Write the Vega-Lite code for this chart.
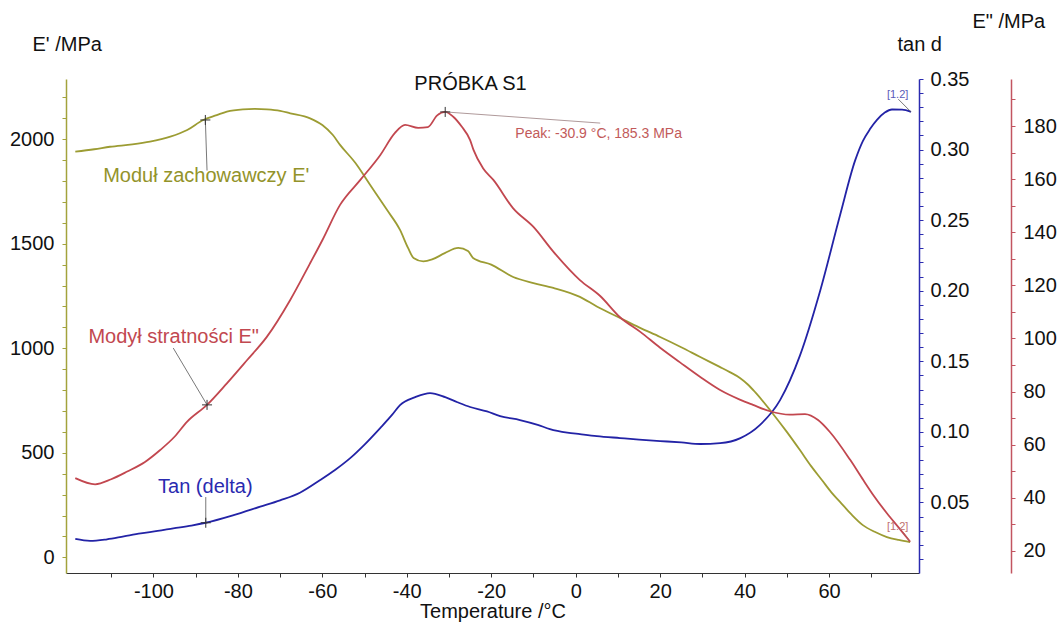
{
  "$schema": "https://vega.github.io/schema/vega-lite/v6.json",
  "width": 853,
  "height": 494,
  "autosize": {"type": "none"},
  "padding": {"left": 66, "top": 79, "right": 138, "bottom": 50},
  "background": "white",
  "config": {
    "view": {"stroke": null},
    "font": "Liberation Sans",
    "axis": {
      "grid": false,
      "labelFont": "Liberation Sans",
      "titleFont": "Liberation Sans",
      "labelFontSize": 20,
      "titleFontSize": 20,
      "titleFontWeight": "normal",
      "labelColor": "#111",
      "titleColor": "#111"
    }
  },
  "title": {
    "text": "PRÓBKA S1",
    "fontSize": 20,
    "fontWeight": "normal",
    "color": "#111",
    "anchor": "middle",
    "frame": "group",
    "dx": -22,
    "offset": -99,
    "baseline": "alphabetic"
  },
  "datasets": {
    "ep": [
      {"T": -118.5, "v": 1941}, {"T": -114, "v": 1952}, {"T": -110.3, "v": 1964}, {"T": -105, "v": 1975},
      {"T": -100.8, "v": 1988}, {"T": -96, "v": 2012}, {"T": -92, "v": 2044}, {"T": -88.2, "v": 2092},
      {"T": -85, "v": 2115}, {"T": -82.6, "v": 2132}, {"T": -78.8, "v": 2143}, {"T": -76, "v": 2145},
      {"T": -73.1, "v": 2143}, {"T": -70, "v": 2136}, {"T": -67.6, "v": 2124}, {"T": -62.9, "v": 2100},
      {"T": -60, "v": 2068}, {"T": -57.5, "v": 2020}, {"T": -55.8, "v": 1973}, {"T": -52.2, "v": 1887},
      {"T": -48.7, "v": 1782}, {"T": -46.3, "v": 1710}, {"T": -44.7, "v": 1662}, {"T": -41.6, "v": 1566},
      {"T": -39.7, "v": 1480}, {"T": -38.4, "v": 1432}, {"T": -36.1, "v": 1416}, {"T": -34, "v": 1425},
      {"T": -31, "v": 1455}, {"T": -27.8, "v": 1480}, {"T": -25.5, "v": 1465}, {"T": -24.3, "v": 1432},
      {"T": -20, "v": 1400}, {"T": -14.8, "v": 1341}, {"T": -10, "v": 1312}, {"T": -5.3, "v": 1289},
      {"T": 1, "v": 1246}, {"T": 5, "v": 1200}, {"T": 10.5, "v": 1145}, {"T": 15, "v": 1100},
      {"T": 20, "v": 1054}, {"T": 25, "v": 1005}, {"T": 29.5, "v": 958}, {"T": 34, "v": 912},
      {"T": 36.5, "v": 886}, {"T": 38.9, "v": 858}, {"T": 40.7, "v": 828}, {"T": 42.5, "v": 790},
      {"T": 46.7, "v": 687}, {"T": 50, "v": 600},
      {"T": 53.1, "v": 513}, {"T": 55.8, "v": 435}, {"T": 58.3, "v": 370}, {"T": 60.5, "v": 312},
      {"T": 62.6, "v": 265}, {"T": 65.3, "v": 205}, {"T": 68, "v": 154}, {"T": 70.8, "v": 122},
      {"T": 73.7, "v": 97}, {"T": 76.5, "v": 83}, {"T": 79.2, "v": 73}
    ],
    "epp": [
      {"T": -118.5, "v": 47.4}, {"T": -113.8, "v": 45.1}, {"T": -110, "v": 47}, {"T": -106.2, "v": 49.9},
      {"T": -102, "v": 53.5}, {"T": -98.4, "v": 58}, {"T": -95, "v": 63}, {"T": -92, "v": 68.7},
      {"T": -87.3, "v": 75}, {"T": -82.6, "v": 83.1}, {"T": -77.8, "v": 91.9}, {"T": -73.1, "v": 100.7},
      {"T": -67.6, "v": 114.5}, {"T": -63, "v": 128}, {"T": -60, "v": 137}, {"T": -55.8, "v": 150.3},
      {"T": -51, "v": 159.7}, {"T": -46.3, "v": 169}, {"T": -42.8, "v": 177.4}, {"T": -40.4, "v": 180.4},
      {"T": -37.3, "v": 179.3}, {"T": -35, "v": 179.6}, {"T": -32.8, "v": 184}, {"T": -30.9, "v": 185.3},
      {"T": -29, "v": 183.5}, {"T": -27, "v": 179.8}, {"T": -25, "v": 174.7}, {"T": -24.2, "v": 171},
      {"T": -21.9, "v": 164}, {"T": -19.5, "v": 159.7}, {"T": -14.8, "v": 149}, {"T": -10, "v": 142},
      {"T": -5.3, "v": 132.7}, {"T": 1, "v": 122}, {"T": 5.8, "v": 116}, {"T": 10.5, "v": 108},
      {"T": 15.3, "v": 102.5}, {"T": 20, "v": 96.5}, {"T": 24.7, "v": 91}, {"T": 29.5, "v": 85.5},
      {"T": 34.2, "v": 80.6}, {"T": 39, "v": 76.9}, {"T": 42, "v": 75}, {"T": 46, "v": 72.6},
      {"T": 50.7, "v": 71.3}, {"T": 54.3, "v": 71.5}, {"T": 57.4, "v": 69.3}, {"T": 60.2, "v": 64.8},
      {"T": 65, "v": 54.3}, {"T": 68.1, "v": 46.7}, {"T": 70.5, "v": 41}, {"T": 73.7, "v": 34.2},
      {"T": 76.5, "v": 28.8}, {"T": 79.2, "v": 23.5}
    ],
    "tan": [
      {"T": -118.5, "v": 0.0241}, {"T": -115, "v": 0.0227}, {"T": -111, "v": 0.0239}, {"T": -107, "v": 0.026},
      {"T": -103, "v": 0.0281}, {"T": -99, "v": 0.0298}, {"T": -95.3, "v": 0.0316}, {"T": -91, "v": 0.0336},
      {"T": -87.6, "v": 0.0356}, {"T": -81, "v": 0.041}, {"T": -74.7, "v": 0.047}, {"T": -70, "v": 0.0515},
      {"T": -65.3, "v": 0.0569}, {"T": -60.5, "v": 0.0659}, {"T": -57, "v": 0.073}, {"T": -53.4, "v": 0.0814},
      {"T": -50, "v": 0.091}, {"T": -46.3, "v": 0.1027}, {"T": -43.5, "v": 0.112}, {"T": -41.6, "v": 0.119},
      {"T": -38, "v": 0.1246}, {"T": -34.5, "v": 0.1275}, {"T": -30.9, "v": 0.1246}, {"T": -28, "v": 0.121},
      {"T": -25, "v": 0.1176}, {"T": -21, "v": 0.1145}, {"T": -17.9, "v": 0.1112}, {"T": -13.2, "v": 0.1084},
      {"T": -9, "v": 0.105}, {"T": -6.1, "v": 0.102}, {"T": -2, "v": 0.0995}, {"T": 1, "v": 0.0984},
      {"T": 5, "v": 0.097}, {"T": 10.5, "v": 0.0956}, {"T": 15, "v": 0.0945}, {"T": 20, "v": 0.0935},
      {"T": 25, "v": 0.0925}, {"T": 29.5, "v": 0.0914}, {"T": 34.2, "v": 0.092}, {"T": 39, "v": 0.0956},
      {"T": 43.6, "v": 0.1048}, {"T": 48.4, "v": 0.1225}, {"T": 53.1, "v": 0.154}, {"T": 57.9, "v": 0.2},
      {"T": 62.6, "v": 0.2535}, {"T": 66.2, "v": 0.2925}, {"T": 68, "v": 0.306}, {"T": 69.7, "v": 0.3145},
      {"T": 71.4, "v": 0.3212}, {"T": 73.2, "v": 0.3262}, {"T": 74.9, "v": 0.3284}, {"T": 77.3, "v": 0.3283},
      {"T": 79.4, "v": 0.3267}
    ],
    "epText": [{"T": -111.9, "v": 1796, "label": "Moduł zachowawczy E'"}],
    "eppText": [{"T": -115.4, "v": 98.3, "label": "Modył stratności E\""}],
    "eppSmall": [
      {"T": -14.3, "v": 175.5, "label": "Peak: -30.9 °C, 185.3 MPa", "kind": "peak"},
      {"T": 73.7, "v": 27.9, "label": "[1.2]", "kind": "end"}
    ],
    "tanText": [{"T": -98.9, "v": 0.0567, "label": "Tan (delta)"}],
    "tanSmall": [{"T": 73.7, "v": 0.3364, "label": "[1.2]"}],
    "epLead": [{"T": -87.7, "v": 2092, "T2": -87.3, "v2": 1850}],
    "eppLead": [
      {"T": -95.3, "v": 96.4, "T2": -87.3, "v2": 75, "kind": "label"},
      {"T": -30.9, "v": 185.3, "T2": 5.8, "v2": 181.1, "kind": "peak"},
      {"T": 77.5, "v": 27.2, "T2": 79.2, "v2": 23.5, "kind": "end"}
    ],
    "tanLead": [
      {"T": -87.6, "v": 0.0538, "T2": -87.6, "v2": 0.0356},
      {"T": 76.4, "v": 0.3357, "T2": 79.4, "v2": 0.3267}
    ],
    "epMark": [{"T": -87.7, "v": 2092}],
    "eppMark": [{"T": -87.3, "v": 75}, {"T": -30.9, "v": 185.3}],
    "tanMark": [{"T": -87.6, "v": 0.0356}]
  },
  "layer": [
    {
      "data": {"name": "ep"},
      "mark": {"type": "line", "color": "#9c9c33", "strokeWidth": 1.8, "interpolate": "monotone"},
      "encoding": {
        "x": {
          "field": "T", "type": "quantitative",
          "scale": {"domain": [-120.7, 81.3], "nice": false, "zero": false},
          "axis": {
            "title": "Temperature /°C",
            "values": [-110, -100, -90, -80, -70, -60, -50, -40, -30, -20, -10, 0, 10, 20, 30, 40, 50, 60, 70],
            "labelExpr": "datum.value % 20 === 0 ? toString(datum.value) : ''",
            "domainColor": "#333",
            "tickColor": "#333",
            "tickSize": 4,
            "labelPadding": 4,
            "titlePadding": 0,
            "labelFlush": false
          }
        },
        "y": {
          "field": "v", "type": "quantitative",
          "scale": {"domain": [-75, 2288], "nice": false, "zero": false},
          "axis": {
            "orient": "left",
            "title": "E' /MPa",
            "titleAngle": 0,
            "titleAlign": "left",
            "titleBaseline": "alphabetic",
            "titleX": -34,
            "titleY": -29,
            "values": [0, 100, 200, 300, 400, 500, 600, 700, 800, 900, 1000, 1100, 1200, 1300, 1400, 1500, 1600, 1700, 1800, 1900, 2000, 2100, 2200],
            "labelExpr": "datum.value % 500 === 0 ? toString(datum.value) : ''",
            "domainColor": "#a3a33c",
            "domainWidth": 1.5,
            "tickColor": "#a3a33c",
            "tickSize": 4,
            "labelPadding": 8
          }
        }
      }
    },
    {
      "data": {"name": "tan"},
      "mark": {"type": "line", "color": "#2323a6", "strokeWidth": 1.8, "interpolate": "monotone"},
      "encoding": {
        "x": {"field": "T", "type": "quantitative"},
        "y": {
          "field": "v", "type": "quantitative",
          "scale": {"domain": [0, 0.35], "nice": false, "zero": false},
          "axis": {
            "orient": "right",
            "title": "tan d",
            "titleAngle": 0,
            "titleAlign": "left",
            "titleBaseline": "alphabetic",
            "titleX": -22,
            "titleY": -29,
            "values": [0.01, 0.02, 0.03, 0.04, 0.05, 0.06, 0.07, 0.08, 0.09, 0.1, 0.11, 0.12, 0.13, 0.14, 0.15, 0.16, 0.17, 0.18, 0.19, 0.2, 0.21, 0.22, 0.23, 0.24, 0.25, 0.26, 0.27, 0.28, 0.29, 0.3, 0.31, 0.32, 0.33, 0.34, 0.35],
            "labelExpr": "round(datum.value * 100) % 5 === 0 ? format(datum.value, '.2f') : ''",
            "domainColor": "#2b2bb0",
            "domainWidth": 1.5,
            "tickColor": "#2b2bb0",
            "tickSize": 4,
            "labelPadding": 7,
            "labelFlush": false
          }
        }
      }
    },
    {
      "data": {"name": "epp"},
      "mark": {"type": "line", "color": "#c2474f", "strokeWidth": 1.8, "interpolate": "monotone"},
      "encoding": {
        "x": {"field": "T", "type": "quantitative"},
        "y": {
          "field": "v", "type": "quantitative",
          "scale": {"domain": [11.7, 197.7], "nice": false, "zero": false},
          "axis": {
            "orient": "right",
            "offset": 92,
            "title": "E\" /MPa",
            "titleAngle": 0,
            "titleAlign": "left",
            "titleBaseline": "alphabetic",
            "titleX": -39,
            "titleY": -52,
            "values": [20, 30, 40, 50, 60, 70, 80, 90, 100, 110, 120, 130, 140, 150, 160, 170, 180, 190],
            "labelExpr": "datum.value % 20 === 0 ? datum.label : ''",
            "domainColor": "#c25560",
            "domainWidth": 1.5,
            "tickColor": "#c25560",
            "tickSize": 4,
            "labelPadding": 8,
            "labelFlush": false
          }
        }
      }
    },
    {
      "data": {"name": "epLead"},
      "mark": {"type": "rule", "color": "#555", "strokeWidth": 0.8},
      "encoding": {
        "x": {"field": "T", "type": "quantitative"},
        "x2": {"field": "T2"},
        "y": {"field": "v", "type": "quantitative", "axis": null, "scale": {"domain": [-75, 2288], "nice": false, "zero": false}},
        "y2": {"field": "v2"}
      }
    },
    {
      "data": {"name": "epMark"},
      "mark": {"type": "point", "shape": "M-1,0L1,0M0,-1L0,1", "size": 100, "filled": false, "stroke": "#333", "strokeWidth": 1, "opacity": 1},
      "encoding": {
        "x": {"field": "T", "type": "quantitative"},
        "y": {"field": "v", "type": "quantitative", "axis": null, "scale": {"domain": [-75, 2288], "nice": false, "zero": false}}
      }
    },
    {
      "data": {"name": "epText"},
      "mark": {"type": "text", "align": "left", "baseline": "alphabetic", "fontSize": 20, "color": "#93932a"},
      "encoding": {
        "x": {"field": "T", "type": "quantitative"},
        "y": {"field": "v", "type": "quantitative", "axis": null, "scale": {"domain": [-75, 2288], "nice": false, "zero": false}},
        "text": {"field": "label"}
      }
    },
    {
      "data": {"name": "tanLead"},
      "mark": {"type": "rule", "color": "#555", "strokeWidth": 0.8},
      "encoding": {
        "x": {"field": "T", "type": "quantitative"},
        "x2": {"field": "T2"},
        "y": {"field": "v", "type": "quantitative", "axis": null, "scale": {"domain": [0, 0.35], "nice": false, "zero": false}},
        "y2": {"field": "v2"}
      }
    },
    {
      "data": {"name": "tanMark"},
      "mark": {"type": "point", "shape": "M-1,0L1,0M0,-1L0,1", "size": 100, "filled": false, "stroke": "#333", "strokeWidth": 1, "opacity": 1},
      "encoding": {
        "x": {"field": "T", "type": "quantitative"},
        "y": {"field": "v", "type": "quantitative", "axis": null, "scale": {"domain": [0, 0.35], "nice": false, "zero": false}}
      }
    },
    {
      "data": {"name": "tanText"},
      "mark": {"type": "text", "align": "left", "baseline": "alphabetic", "fontSize": 20, "color": "#2a2ab0"},
      "encoding": {
        "x": {"field": "T", "type": "quantitative"},
        "y": {"field": "v", "type": "quantitative", "axis": null, "scale": {"domain": [0, 0.35], "nice": false, "zero": false}},
        "text": {"field": "label"}
      }
    },
    {
      "data": {"name": "tanSmall"},
      "mark": {"type": "text", "align": "left", "baseline": "alphabetic", "fontSize": 11, "color": "#5a5ab8"},
      "encoding": {
        "x": {"field": "T", "type": "quantitative"},
        "y": {"field": "v", "type": "quantitative", "axis": null, "scale": {"domain": [0, 0.35], "nice": false, "zero": false}},
        "text": {"field": "label"}
      }
    },
    {
      "data": {"name": "eppLead"},
      "mark": {"type": "rule", "strokeWidth": 0.8},
      "encoding": {
        "x": {"field": "T", "type": "quantitative"},
        "x2": {"field": "T2"},
        "y": {"field": "v", "type": "quantitative", "axis": null, "scale": {"domain": [11.7, 197.7], "nice": false, "zero": false}},
        "y2": {"field": "v2"},
        "color": {"field": "kind", "type": "nominal", "scale": {"domain": ["label", "peak", "end"], "range": ["#555555", "#9a7f80", "#b06060"]}, "legend": null}
      }
    },
    {
      "data": {"name": "eppMark"},
      "mark": {"type": "point", "shape": "M-1,0L1,0M0,-1L0,1", "size": 100, "filled": false, "stroke": "#333", "strokeWidth": 1, "opacity": 1},
      "encoding": {
        "x": {"field": "T", "type": "quantitative"},
        "y": {"field": "v", "type": "quantitative", "axis": null, "scale": {"domain": [11.7, 197.7], "nice": false, "zero": false}}
      }
    },
    {
      "data": {"name": "eppText"},
      "mark": {"type": "text", "align": "left", "baseline": "alphabetic", "fontSize": 20, "color": "#c24850"},
      "encoding": {
        "x": {"field": "T", "type": "quantitative"},
        "y": {"field": "v", "type": "quantitative", "axis": null, "scale": {"domain": [11.7, 197.7], "nice": false, "zero": false}},
        "text": {"field": "label"}
      }
    },
    {
      "data": {"name": "eppSmall"},
      "mark": {"type": "text", "align": "left", "baseline": "alphabetic"},
      "encoding": {
        "x": {"field": "T", "type": "quantitative"},
        "y": {"field": "v", "type": "quantitative", "axis": null, "scale": {"domain": [11.7, 197.7], "nice": false, "zero": false}},
        "text": {"field": "label"},
        "size": {"field": "kind", "type": "nominal", "scale": {"domain": ["peak", "end"], "range": [14, 11]}, "legend": null},
        "color": {"field": "kind", "type": "nominal", "scale": {"domain": ["peak", "end"], "range": ["#c25a5a", "#c07070"]}, "legend": null}
      }
    }
  ],
  "resolve": {"scale": {"y": "independent", "color": "independent", "size": "independent"}}
}
